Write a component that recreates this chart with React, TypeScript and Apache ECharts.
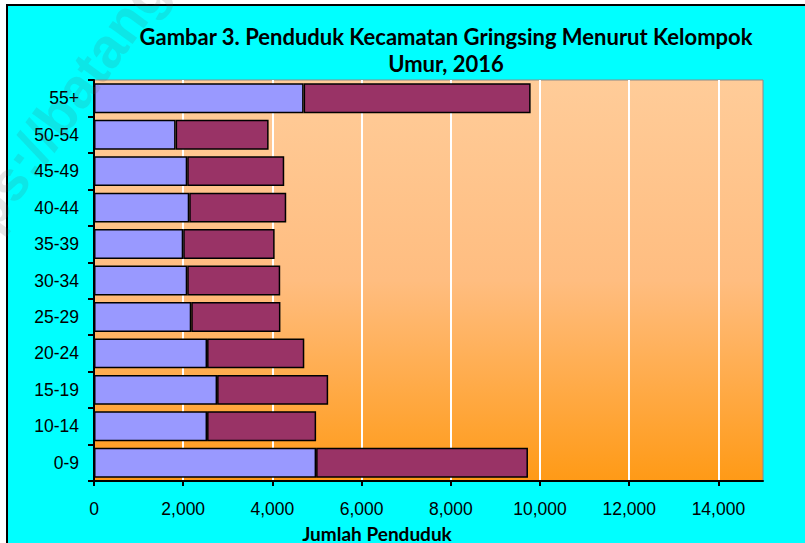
import React, { useEffect, useRef } from "react";
import * as echarts from "echarts";

const categories = ["0-9", "10-14", "15-19", "20-24", "25-29", "30-34", "35-39", "40-44", "45-49", "50-54", "55+"];
const seriesA = [4980, 2535, 2760, 2535, 2180, 2090, 2000, 2135, 2090, 1830, 4700];
const seriesB = [4750, 2445, 2490, 2180, 2000, 2085, 2050, 2175, 2175, 2085, 5090];
const xTicks = [0, 2000, 4000, 6000, 8000, 10000, 12000, 14000];
const titleText = "Gambar 3. Penduduk Kecamatan Gringsing Menurut Kelompok\nUmur, 2016";
const xAxisTitle = "Jumlah Penduduk";
const watermark = "https://batangkab.bps.go.id";

export default function App() {
  const ref = useRef<HTMLDivElement>(null);
  useEffect(() => {
    if (!ref.current) return;
    const chart = echarts.init(ref.current, null, { renderer: "svg" });
    chart.setOption({
      animation: false,
      backgroundColor: "transparent",
      grid: {
        left: 94,
        right: 42,
        top: 80,
        bottom: 62,
        containLabel: false,
        show: true,
        borderColor: "#8a8a8a",
        borderWidth: 1,
        backgroundColor: new echarts.graphic.LinearGradient(0, 0, 0, 1, [
          { offset: 0, color: "#FFCC99" },
          { offset: 0.5, color: "#FFBD80" },
          { offset: 1, color: "#FF9A16" },
        ]),
      },
      xAxis: {
        type: "value",
        min: 0,
        max: 15000,
        interval: 2000,
        axisLine: { show: true, lineStyle: { color: "#000", width: 2 } },
        axisTick: { show: true, length: 5, lineStyle: { color: "#000", width: 2 }, customValues: xTicks },
        axisLabel: {
          customValues: xTicks,
          margin: 20,
          color: "#000",
          fontFamily: "Liberation Sans, Arial, sans-serif",
          fontSize: 17.5,
          lineHeight: 16,
          formatter: (v: number) => v.toLocaleString("en-US"),
        },
        splitLine: { show: true, lineStyle: { color: "#FFFFFF", width: 2 } },
      },
      yAxis: {
        type: "category",
        data: categories,
        axisLine: { show: true, lineStyle: { color: "#000", width: 2 } },
        axisTick: { show: true, length: 6, lineStyle: { color: "#000", width: 2 } },
        axisLabel: {
          margin: 15,
          color: "#000",
          fontFamily: "Liberation Sans, Arial, sans-serif",
          fontSize: 17.5,
        },
        splitLine: { show: false },
      },
      series: [
        {
          type: "bar",
          stack: "total",
          data: seriesA,
          barCategoryGap: "18%",
          itemStyle: { color: "#9999FF", borderColor: "#000", borderWidth: 1.5 },
          z: 3,
        },
        {
          type: "bar",
          stack: "total",
          data: seriesB,
          barCategoryGap: "18%",
          itemStyle: { color: "#993366", borderColor: "#000", borderWidth: 1.5 },
          z: 3,
        },
      ],
      graphic: [
        {
          type: "text",
          x: 446,
          y: 23,
          z: 10,
          style: {
            text: titleText,
            fontFamily: "Lato, sans-serif",
            fontWeight: "bold",
            fontSize: 22,
            lineHeight: 27,
            fill: "#000",
            textAlign: "center",
            textVerticalAlign: "top",
          },
        },
        {
          type: "text",
          x: 377,
          y: 533,
          z: 10,
          style: {
            text: xAxisTitle,
            fontFamily: "Lato, sans-serif",
            fontWeight: "bold",
            fontSize: 19,
            lineHeight: 17,
            fill: "#000",
            textAlign: "center",
            textVerticalAlign: "middle",
          },
        },
        {
          type: "text",
          x: -63,
          y: 280,
          rotation: (54 * Math.PI) / 180,
          z: 20,
          silent: true,
          style: {
            text: watermark,
            fontFamily: "Liberation Sans, Arial, sans-serif",
            fontWeight: "bold",
            fontSize: 56,
            fill: "rgba(90,90,90,0.15)",
            textAlign: "left",
            textVerticalAlign: "middle",
          },
        },
      ],
    });
    return () => chart.dispose();
  }, []);

  return (
    <div style={{ position: "absolute", left: 0, top: 0, width: 805, height: 543, overflow: "hidden", background: "#fff" }}>
      <div
        style={{
          position: "absolute",
          left: 6,
          top: 4,
          width: 820,
          height: 560,
          background: "#00FFFF",
          border: "2px solid #000",
          boxSizing: "border-box",
        }}
      />
      <div ref={ref} style={{ position: "absolute", left: 0, top: 0, width: 805, height: 543 }} />
    </div>
  );
}
